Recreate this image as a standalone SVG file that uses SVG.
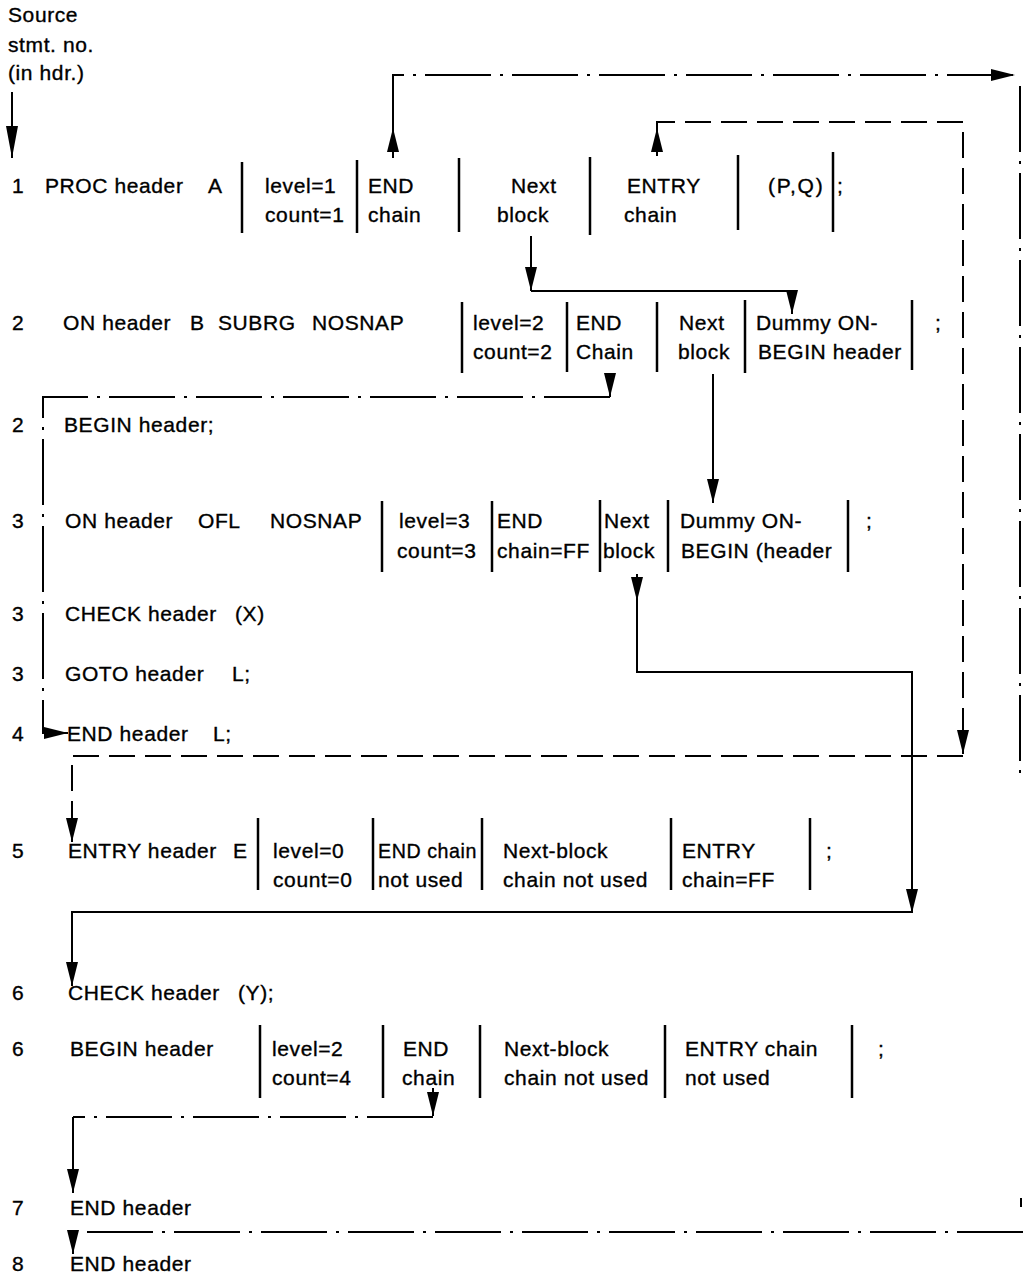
<svg xmlns="http://www.w3.org/2000/svg" width="1023" height="1279" viewBox="0 0 1023 1279">
<defs>
<marker id="ah" viewBox="0 0 24 12" refX="24" refY="6" markerWidth="24" markerHeight="12" markerUnits="userSpaceOnUse" orient="auto"><path d="M0,0 L24,6 L0,12 z" fill="#000"/></marker>
<marker id="ahL" viewBox="0 0 32 12" refX="32" refY="6" markerWidth="32" markerHeight="12" markerUnits="userSpaceOnUse" orient="auto"><path d="M0,0 L32,6 L0,12 z" fill="#000"/></marker>
<style>
text{font-family:"Liberation Sans",Arial,sans-serif;font-size:21px;fill:#000;stroke:#000;stroke-width:0.35;letter-spacing:0.6px}
.bar{stroke:#000;stroke-width:2.5}
.ln{fill:none;stroke:#000;stroke-width:2}
.dd{stroke-dasharray:66 9 3 9}
.ds{stroke-dasharray:26 10}
.wide{letter-spacing:1.8px}
</style>
</defs>
<rect width="1023" height="1279" fill="#fff"/>

<g id="legend">
<text x="8" y="22">Source</text>
<text x="8" y="52">stmt. no.</text>
<text x="8" y="80">(in hdr.)</text>
</g>

<g id="n1">
<text x="12" y="193">1</text>
<text x="45" y="193">PROC header<tspan x="208">A</tspan></text>
<line class="bar" x1="242" y1="162" x2="242" y2="233"/>
<text x="265" y="193">level=1</text><text x="265" y="222">count=1</text>
<line class="bar" x1="357" y1="160" x2="357" y2="233"/>
<text x="368" y="193">END</text><text x="368" y="222">chain</text>
<line class="bar" x1="459" y1="158" x2="459" y2="232"/>
<text x="511" y="193">Next</text><text x="497" y="222">block</text>
<line class="bar" x1="590" y1="157" x2="590" y2="235"/>
<text x="627" y="193">ENTRY</text><text x="624" y="222">chain</text>
<line class="bar" x1="738" y1="155" x2="738" y2="230"/>
<text x="768" y="193" class="wide">(P,Q)</text>
<line class="bar" x1="833" y1="152" x2="833" y2="232"/>
<text x="837" y="193">;</text>
</g>

<g id="n2">
<text x="12" y="330">2</text>
<text x="63" y="330">ON header<tspan x="190">B</tspan><tspan x="218">SUBRG</tspan><tspan x="312">NOSNAP</tspan></text>
<line class="bar" x1="462" y1="302" x2="462" y2="373"/>
<text x="473" y="330">level=2</text><text x="473" y="359">count=2</text>
<line class="bar" x1="567" y1="302" x2="567" y2="372"/>
<text x="576" y="330">END</text><text x="576" y="359">Chain</text>
<line class="bar" x1="657" y1="302" x2="657" y2="372"/>
<text x="679" y="330">Next</text><text x="678" y="359">block</text>
<line class="bar" x1="745" y1="300" x2="745" y2="373"/>
<text x="756" y="330">Dummy ON-</text><text x="758" y="359">BEGIN header</text>
<line class="bar" x1="912" y1="300" x2="912" y2="370"/>
<text x="935" y="330">;</text>
</g>

<g id="n2b">
<text x="12" y="432">2</text>
<text x="64" y="432">BEGIN header;</text>
</g>

<g id="n3">
<text x="12" y="528">3</text>
<text x="65" y="528">ON header<tspan x="198">OFL</tspan><tspan x="270">NOSNAP</tspan></text>
<line class="bar" x1="382" y1="501" x2="382" y2="572"/>
<text x="399" y="528">level=3</text><text x="397" y="558">count=3</text>
<line class="bar" x1="492" y1="501" x2="492" y2="572"/>
<text x="497" y="528">END</text><text x="497" y="558">chain=FF</text>
<line class="bar" x1="600" y1="500" x2="600" y2="572"/>
<text x="604" y="528">Next</text><text x="603" y="558">block</text>
<line class="bar" x1="668" y1="500" x2="668" y2="572"/>
<text x="680" y="528">Dummy ON-</text><text x="681" y="558">BEGIN (header</text>
<line class="bar" x1="848" y1="500" x2="848" y2="572"/>
<text x="866" y="528">;</text>
</g>

<g id="n3b">
<text x="12" y="621">3</text>
<text x="65" y="621">CHECK header<tspan x="235">(X)</tspan></text>
</g>
<g id="n3c">
<text x="12" y="681">3</text>
<text x="65" y="681">GOTO header<tspan x="232">L;</tspan></text>
</g>
<g id="n4">
<text x="12" y="741">4</text>
<text x="67" y="741">END header<tspan x="213">L;</tspan></text>
</g>

<g id="n5">
<text x="12" y="858">5</text>
<text x="68" y="858">ENTRY header<tspan x="233">E</tspan></text>
<line class="bar" x1="258" y1="818" x2="258" y2="890"/>
<text x="273" y="858">level=0</text><text x="273" y="887">count=0</text>
<line class="bar" x1="373" y1="818" x2="373" y2="890"/>
<text x="378" y="858" textLength="99" lengthAdjust="spacingAndGlyphs">END chain</text><text x="378" y="887">not used</text>
<line class="bar" x1="482" y1="818" x2="482" y2="890"/>
<text x="503" y="858">Next-block</text><text x="503" y="887">chain not used</text>
<line class="bar" x1="671" y1="818" x2="671" y2="890"/>
<text x="682" y="858">ENTRY</text><text x="682" y="887">chain=FF</text>
<line class="bar" x1="810" y1="818" x2="810" y2="890"/>
<text x="826" y="858">;</text>
</g>

<g id="n6">
<text x="12" y="1000">6</text>
<text x="68" y="1000">CHECK header<tspan x="238">(Y);</tspan></text>
</g>

<g id="n6b">
<text x="12" y="1056">6</text>
<text x="70" y="1056">BEGIN header</text>
<line class="bar" x1="260" y1="1025" x2="260" y2="1098"/>
<text x="272" y="1056">level=2</text><text x="272" y="1085">count=4</text>
<line class="bar" x1="383" y1="1025" x2="383" y2="1098"/>
<text x="403" y="1056">END</text><text x="402" y="1085">chain</text>
<line class="bar" x1="480" y1="1025" x2="480" y2="1098"/>
<text x="504" y="1056">Next-block</text><text x="504" y="1085">chain not used</text>
<line class="bar" x1="665" y1="1025" x2="665" y2="1098"/>
<text x="685" y="1056">ENTRY chain</text><text x="685" y="1085">not used</text>
<line class="bar" x1="852" y1="1025" x2="852" y2="1098"/>
<text x="878" y="1056">;</text>
</g>

<g id="n7">
<text x="12" y="1215">7</text>
<text x="70" y="1215">END header</text>
</g>
<g id="n8">
<text x="12" y="1271">8</text>
<text x="70" y="1271">END header</text>
</g>

<g id="connectors">
<path class="ln" d="M12,92 V158" marker-end="url(#ahL)"/>
<path class="ln" d="M393,158 V128" marker-end="url(#ah)"/>
<path class="ln dd" d="M393,130 V75 H1015" marker-end="url(#ah)"/>
<path class="ln dd" d="M1020,86 V776"/>
<path class="ln" d="M1021,1198 V1207"/>
<path class="ln" d="M657,156 V128" marker-end="url(#ah)"/>
<path class="ln ds" d="M657,130 V122 H963 V754" marker-end="url(#ah)"/>
<path class="ln ds" d="M963,756 H72 V842" marker-end="url(#ah)"/>
<path class="ln" d="M531,236 V291" marker-end="url(#ah)"/>
<path class="ln" d="M531,291 H792 V314" marker-end="url(#ah)"/>
<path class="ln" d="M610,374 V397" marker-end="url(#ah)"/>
<path class="ln dd" d="M610,397 H43 V733 H50"/>
<path class="ln" d="M43,733 H68" marker-end="url(#ah)"/>
<path class="ln" d="M713,374 V503" marker-end="url(#ah)"/>
<path class="ln" d="M637,574 V601" marker-end="url(#ah)"/>
<path class="ln" d="M637,600 V672 H912 V913" marker-end="url(#ah)"/>
<path class="ln" d="M912,912 H72 V986" marker-end="url(#ah)"/>
<path class="ln" d="M433,1088 V1116" marker-end="url(#ah)"/>
<path class="ln dd" d="M433,1117 H73"/>
<path class="ln" d="M73,1117 V1193" marker-end="url(#ah)"/>
<path class="ln dd" d="M1023,1232 H73"/>
<path class="ln" d="M73,1232 V1254" marker-end="url(#ah)"/>
</g>
</svg>
